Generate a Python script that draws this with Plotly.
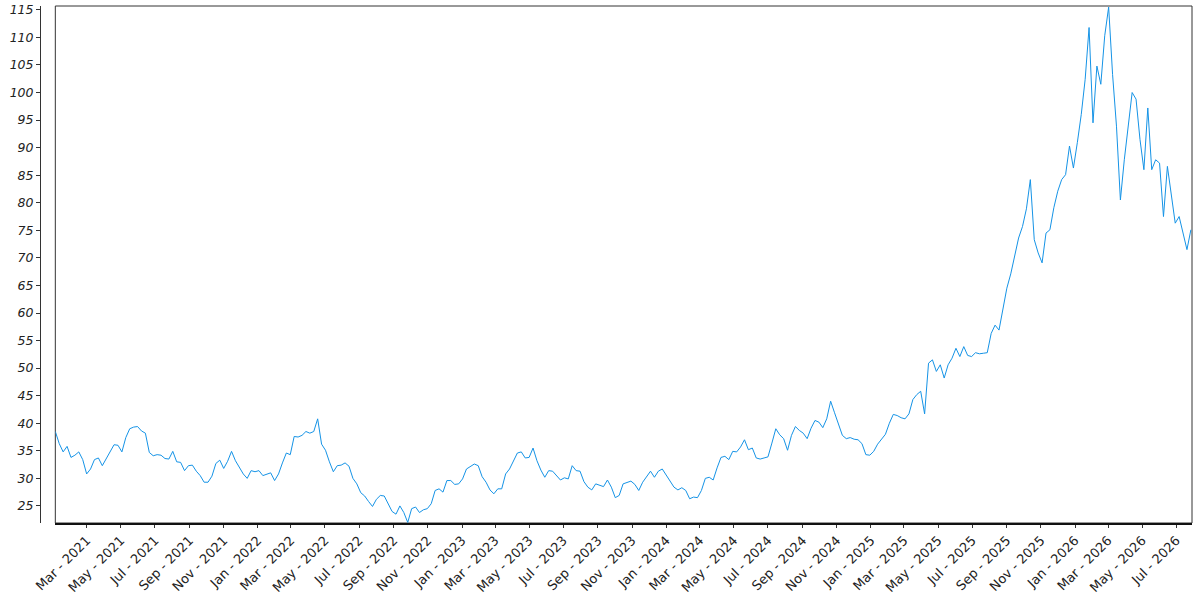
import pandas as pd
import plotly.graph_objects as go

# Weekly closing values, starting Mon 2021-01-04
start_date = "2021-01-04"

values_2021_2022 = [
    38.5, 36.3, 34.8, 35.8, 33.8, 34.2, 34.8, 33.4, 30.8, 31.7,
    33.4, 33.7, 32.3, 33.6, 34.8, 36.1, 36.0, 34.8, 37.4, 39.0,
    39.3, 39.4, 38.6, 38.2, 34.7, 34.1, 34.3, 34.2, 33.6, 33.5,
    34.9, 33.0, 32.9, 31.4, 32.3, 32.4, 31.3, 30.5, 29.3, 29.3,
    30.4, 32.7, 33.3, 31.8, 33.1, 34.9, 33.2, 32.0, 30.8, 30.0,
    31.4, 31.2, 31.4, 30.5, 30.7, 31.0, 29.6, 30.8, 32.8, 34.6,
    34.3, 37.6, 37.5, 37.8, 38.5, 38.2, 38.5, 40.8, 36.2, 35.1,
    33.0, 31.2, 32.3, 32.4, 32.8, 32.2, 30.0, 29.0, 27.4, 26.8,
    25.8, 24.9, 26.2, 26.9, 26.8, 25.4, 24.0, 23.5, 25.0,
]

values_2022_2024 = [
    23.8, 22.0, 24.5, 24.8, 23.8, 24.3, 24.5, 25.4, 27.8, 28.1,
    27.5, 29.6, 29.6, 28.9, 29.0, 29.9, 31.7, 32.2, 32.6, 32.3,
    30.3, 29.3, 27.9, 27.2, 28.1, 28.1, 30.8, 31.7, 33.1, 34.6,
    34.8, 33.7, 33.8, 35.5, 33.2, 31.5, 30.2, 31.4, 31.3, 30.5,
    29.7, 30.1, 29.9, 32.3, 31.4, 31.3, 29.4, 28.4, 27.9, 29.0,
    28.7, 28.5, 29.7, 28.4, 26.5, 26.9, 29.0, 29.3, 29.5, 28.9,
    27.8, 29.3, 30.3, 31.3, 30.2, 31.3, 31.7, 30.6, 29.6, 28.4,
    27.9, 28.3, 27.8, 26.3, 26.6, 26.5, 27.8, 30.0, 30.2, 29.7,
    31.9, 33.8, 34.0, 33.4, 34.9, 34.8, 35.7, 37.0, 35.2, 35.5,
    33.7, 33.5, 33.7, 33.9, 36.4, 39.0, 37.9, 37.2, 35.1, 37.8,
    39.4, 38.7,
]

values_2024_2025 = [
    38.2, 37.2, 39.1, 40.5, 40.2, 39.2, 40.8, 44.0, 41.9, 40.0,
    37.8, 37.2, 37.4, 37.1, 37.0, 36.3, 34.3, 34.2, 34.9, 36.2,
    37.0, 38.0, 40.0, 41.6, 41.4, 41.0, 40.8, 41.7, 44.3, 45.2,
    45.8, 41.7,
]

values_2025_2026 = [
    50.9, 51.5, 49.4, 50.6, 48.2, 50.6, 51.8, 53.6, 52.1, 53.9,
    52.3, 52.1, 52.8, 52.6, 52.7, 52.8, 56.3, 57.8, 56.9, 60.6,
    64.5, 67.1, 70.3, 73.6, 75.7, 78.9, 84.2, 73.3, 70.9, 69.1,
    74.5, 75.1, 79.1, 82.1, 84.2, 85.1, 90.3, 86.3, 90.9, 96.0,
    102.4, 111.8, 94.5, 104.8, 101.5, 110.3, 115.5, 103.3, 93.9, 80.5,
    87.8, 94.5, 100.0, 98.8, 91.5, 86.0, 97.2, 86.0, 87.8, 87.2,
    77.5, 86.6, 81.2, 76.3, 77.5, 74.5, 71.5, 75.1,
]

values = values_2021_2022 + values_2022_2024 + values_2024_2025 + values_2025_2026
dates = pd.date_range(start_date, periods=len(values), freq="7D")

fig = go.Figure()
fig.add_trace(go.Scatter(
    x=dates, y=values, mode="lines",
    line=dict(color="#1593e6", width=1),
    hoverinfo="x+y", showlegend=False,
))

# box around the plot area (y axis sits detached to the left of it)
fig.add_shape(type="rect", xref="x domain", yref="y domain",
              x0=0, x1=1, y0=0, y1=1, layer="below",
              line=dict(color="#333333", width=1))

fig.update_layout(
    width=1200, height=600,
    margin=dict(l=40, r=8, t=6, b=77),
    plot_bgcolor="white", paper_bgcolor="white",
    font=dict(family="DejaVu Sans", color="#222222"),
    xaxis=dict(
        type="date", automargin=False,
        domain=[0.0133, 1],
        range=[dates[0], dates[-1] + pd.Timedelta(days=2)],
        tick0="2021-03-01", dtick="M2", tickformat="%b - %Y",
        tickangle=-45, ticks="outside", ticklen=3, tickcolor="#333333",
        tickfont=dict(size=13),
        showline=True, linecolor="#111111", linewidth=1.5,
        showgrid=False, zeroline=False,
    ),
    yaxis=dict(
        anchor="free", position=0, automargin=False,
        range=[21.9, 115.7], dtick=5, tick0=25,
        ticks="outside", ticklen=4, tickcolor="#333333",
        tickfont=dict(size=12.5, style="italic"),
        showline=True, linecolor="#333333", linewidth=1,
        showgrid=False, zeroline=False,
    ),
)

# drop the browser's default body margin so the figure fills the window exactly
fig.write_html("out.html", config={"displayModeBar": False},
               post_script="document.body.style.margin='0';")
